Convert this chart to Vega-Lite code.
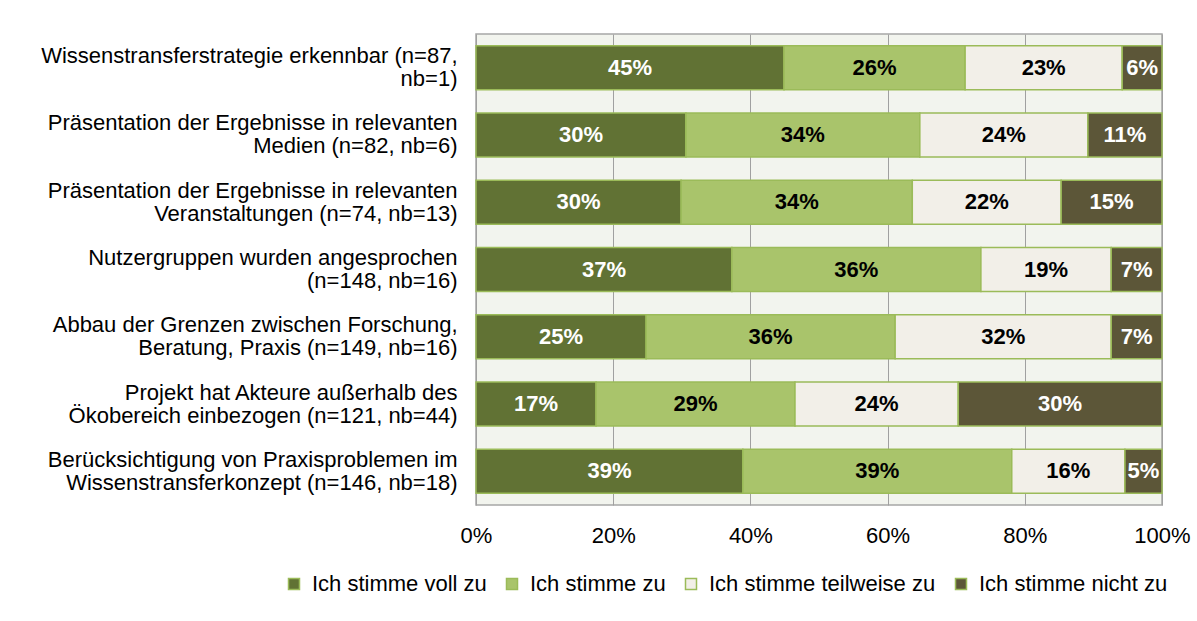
{
  "$schema": "https://vega.github.io/schema/vega-lite/v6.json",
  "autosize": {"type": "none"},
  "padding": {"left": 476, "top": 34, "right": 35, "bottom": 116},
  "width": 686,
  "height": 471,
  "background": "white",
  "config": {
    "font": "Liberation Sans",
    "view": {"fill": "#f2f4ee", "stroke": "#a6a6a6", "strokeWidth": 1.5}
  },
  "data": {
    "values": [
      {"q": "Wissenstransferstrategie erkennbar (n=87,\nnb=1)", "r": "Ich stimme voll zu", "k": 1, "v": 44.9, "lab": "45%"},
      {"q": "Wissenstransferstrategie erkennbar (n=87,\nnb=1)", "r": "Ich stimme zu", "k": 2, "v": 26.4, "lab": "26%"},
      {"q": "Wissenstransferstrategie erkennbar (n=87,\nnb=1)", "r": "Ich stimme teilweise zu", "k": 3, "v": 22.9, "lab": "23%"},
      {"q": "Wissenstransferstrategie erkennbar (n=87,\nnb=1)", "r": "Ich stimme nicht  zu", "k": 4, "v": 5.8, "lab": "6%"},
      {"q": "Präsentation der Ergebnisse in relevanten\nMedien (n=82, nb=6)", "r": "Ich stimme voll zu", "k": 1, "v": 30.6, "lab": "30%"},
      {"q": "Präsentation der Ergebnisse in relevanten\nMedien (n=82, nb=6)", "r": "Ich stimme zu", "k": 2, "v": 34.1, "lab": "34%"},
      {"q": "Präsentation der Ergebnisse in relevanten\nMedien (n=82, nb=6)", "r": "Ich stimme teilweise zu", "k": 3, "v": 24.5, "lab": "24%"},
      {"q": "Präsentation der Ergebnisse in relevanten\nMedien (n=82, nb=6)", "r": "Ich stimme nicht  zu", "k": 4, "v": 10.8, "lab": "11%"},
      {"q": "Präsentation der Ergebnisse in relevanten\nVeranstaltungen (n=74, nb=13)", "r": "Ich stimme voll zu", "k": 1, "v": 29.9, "lab": "30%"},
      {"q": "Präsentation der Ergebnisse in relevanten\nVeranstaltungen (n=74, nb=13)", "r": "Ich stimme zu", "k": 2, "v": 33.7, "lab": "34%"},
      {"q": "Präsentation der Ergebnisse in relevanten\nVeranstaltungen (n=74, nb=13)", "r": "Ich stimme teilweise zu", "k": 3, "v": 21.7, "lab": "22%"},
      {"q": "Präsentation der Ergebnisse in relevanten\nVeranstaltungen (n=74, nb=13)", "r": "Ich stimme nicht  zu", "k": 4, "v": 14.7, "lab": "15%"},
      {"q": "Nutzergruppen wurden angesprochen\n(n=148, nb=16)", "r": "Ich stimme voll zu", "k": 1, "v": 37.3, "lab": "37%"},
      {"q": "Nutzergruppen wurden angesprochen\n(n=148, nb=16)", "r": "Ich stimme zu", "k": 2, "v": 36.3, "lab": "36%"},
      {"q": "Nutzergruppen wurden angesprochen\n(n=148, nb=16)", "r": "Ich stimme teilweise zu", "k": 3, "v": 19.0, "lab": "19%"},
      {"q": "Nutzergruppen wurden angesprochen\n(n=148, nb=16)", "r": "Ich stimme nicht  zu", "k": 4, "v": 7.4, "lab": "7%"},
      {"q": "Abbau der Grenzen zwischen Forschung,\nBeratung, Praxis (n=149, nb=16)", "r": "Ich stimme voll zu", "k": 1, "v": 24.8, "lab": "25%"},
      {"q": "Abbau der Grenzen zwischen Forschung,\nBeratung, Praxis (n=149, nb=16)", "r": "Ich stimme zu", "k": 2, "v": 36.3, "lab": "36%"},
      {"q": "Abbau der Grenzen zwischen Forschung,\nBeratung, Praxis (n=149, nb=16)", "r": "Ich stimme teilweise zu", "k": 3, "v": 31.5, "lab": "32%"},
      {"q": "Abbau der Grenzen zwischen Forschung,\nBeratung, Praxis (n=149, nb=16)", "r": "Ich stimme nicht  zu", "k": 4, "v": 7.4, "lab": "7%"},
      {"q": "Projekt hat Akteure außerhalb des\nÖkobereich einbezogen (n=121, nb=44)", "r": "Ich stimme voll zu", "k": 1, "v": 17.5, "lab": "17%"},
      {"q": "Projekt hat Akteure außerhalb des\nÖkobereich einbezogen (n=121, nb=44)", "r": "Ich stimme zu", "k": 2, "v": 29.0, "lab": "29%"},
      {"q": "Projekt hat Akteure außerhalb des\nÖkobereich einbezogen (n=121, nb=44)", "r": "Ich stimme teilweise zu", "k": 3, "v": 23.8, "lab": "24%"},
      {"q": "Projekt hat Akteure außerhalb des\nÖkobereich einbezogen (n=121, nb=44)", "r": "Ich stimme nicht  zu", "k": 4, "v": 29.7, "lab": "30%"},
      {"q": "Berücksichtigung von Praxisproblemen im\nWissenstransferkonzept (n=146, nb=18)", "r": "Ich stimme voll zu", "k": 1, "v": 38.9, "lab": "39%"},
      {"q": "Berücksichtigung von Praxisproblemen im\nWissenstransferkonzept (n=146, nb=18)", "r": "Ich stimme zu", "k": 2, "v": 39.2, "lab": "39%"},
      {"q": "Berücksichtigung von Praxisproblemen im\nWissenstransferkonzept (n=146, nb=18)", "r": "Ich stimme teilweise zu", "k": 3, "v": 16.5, "lab": "16%"},
      {"q": "Berücksichtigung von Praxisproblemen im\nWissenstransferkonzept (n=146, nb=18)", "r": "Ich stimme nicht  zu", "k": 4, "v": 5.4, "lab": "5%"}
    ]
  },
  "encoding": {
    "y": {
      "field": "q", "type": "nominal", "sort": null,
      "scale": {"paddingInner": 0.346, "paddingOuter": 0.173},
      "axis": {
        "title": null, "domain": false, "ticks": false,
        "labelExpr": "split(datum.label, '\\n')",
        "labelFontSize": 22, "labelColor": "#000000", "labelPadding": 19,
        "labelLineHeight": 23, "labelBaseline": "middle", "labelLimit": 0,
        "labelOffset": -11.5
      }
    },
    "x": {
      "field": "v", "type": "quantitative", "stack": "normalize",
      "scale": {"domain": [0, 1], "nice": false},
      "axis": {
        "title": null, "format": ".0%", "values": [0, 0.2, 0.4, 0.6, 0.8, 1],
        "domain": false, "ticks": false, "grid": true, "gridColor": "#a0a0a0", "gridWidth": 1,
        "labelFontSize": 22, "labelColor": "#000000", "labelPadding": 20,
        "labelFlush": false
      }
    },
    "order": {"field": "k", "type": "quantitative"}
  },
  "layer": [
    {
      "mark": {"type": "bar", "stroke": "#9bbb59", "strokeWidth": 1.5},
      "encoding": {
        "color": {
          "field": "r", "type": "nominal",
          "scale": {
            "domain": ["Ich stimme voll zu", "Ich stimme zu", "Ich stimme teilweise zu", "Ich stimme nicht  zu"],
            "range": ["#617234", "#a9c46b", "#f2efe8", "#5c5638"]
          },
          "legend": {
            "title": null, "orient": "none", "direction": "horizontal",
            "legendX": -193, "legendY": 539,
            "symbolType": "square", "symbolSize": 121,
            "symbolStrokeColor": "#9bbb59", "symbolStrokeWidth": 1.5,
            "labelFontSize": 22, "labelColor": "#000000", "labelOffset": 7,
            "columnPadding": 14, "padding": 0, "labelLimit": 0
          }
        }
      }
    },
    {
      "mark": {"type": "text", "fontWeight": "bold", "fontSize": 22, "baseline": "middle", "align": "center"},
      "encoding": {
        "x": {"field": "v", "type": "quantitative", "stack": "normalize", "bandPosition": 0.5},
        "text": {"field": "lab"},
        "color": {
          "condition": {"test": "datum.k == 1 || datum.k == 4", "value": "#ffffff"},
          "value": "#000000"
        }
      }
    }
  ]
}
